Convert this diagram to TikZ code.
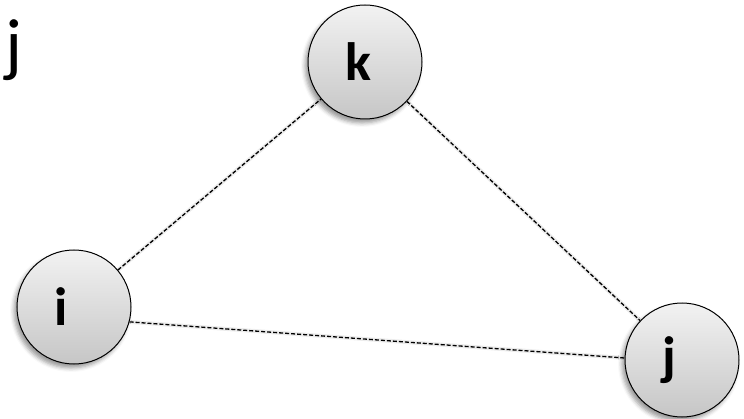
\documentclass[tikz,border=0pt]{standalone}
\usepackage{fontspec}
\setmainfont{Carlito}
\usetikzlibrary{shadows.blur,backgrounds}
\definecolor{ballTop}{RGB}{242,242,242}
\definecolor{ballBot}{RGB}{198,198,198}
\definecolor{linkShade}{RGB}{236,236,236}
\newcommand{\lbl}[1]{\makebox[40pt][l]{#1}}
\begin{document}
\begin{tikzpicture}[x=1pt, y=1pt,
  ball/.style={circle, draw, line width=1pt, minimum size=114pt, inner sep=0pt,
    top color=ballTop, bottom color=ballBot,
    blur shadow={shadow xshift=-3pt, shadow yshift=-4pt, shadow blur radius=4pt},
    font=\fontsize{54}{54}\selectfont\bfseries},
  link/.style={dash pattern=on 4pt off 2pt, line width=1.3pt},
  shade/.style={linkShade, line width=4pt, yshift=-3pt}]
\useasboundingbox (0,0) rectangle (744,418);
\node[anchor=base west, inner sep=0pt, font=\fontsize{71}{71}\selectfont] (tag) at (5,349) {j};
\node[ball] (k) at (365,356) {\lbl{k}};
\node[ball] (i) at (74,111) {\lbl{i}};
\node[ball] (j) at (682,58) {\lbl{j}};
% faint shadows under the links
\begin{scope}[on background layer]
\draw[shade] (i) -- (k);
\draw[shade] (k) -- (j);
\draw[shade] (i.-15) -- (j.178);
\end{scope}
\draw[link] (i) -- (k);
\draw[link] (k) -- (j);
\draw[link] (i.-15) -- (j.178);
\end{tikzpicture}
\end{document}
